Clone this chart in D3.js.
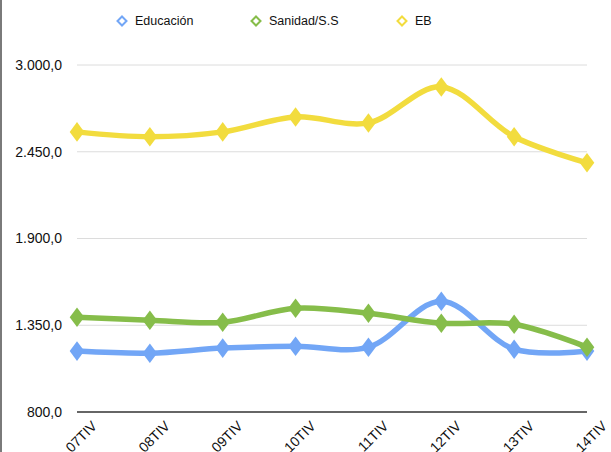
<!DOCTYPE html>
<html>
<head>
<meta charset="utf-8">
<script src="https://cdn.jsdelivr.net/npm/d3@7"></script>
<style>
  body { margin: 0; background: #fff; }
  svg { display: block; font-family: "Liberation Sans", Arial, sans-serif; }
</style>
</head>
<body>
<svg id="chart"></svg>
<script>
// Data
const categories = ["07TIV", "08TIV", "09TIV", "10TIV", "11TIV", "12TIV", "13TIV", "14TIV"];
const educacion = [1186, 1173, 1205, 1217, 1211, 1502, 1198, 1186];
const sanidad = [1401, 1382, 1369, 1458, 1426, 1363, 1356, 1211];
const eb = [2576, 2545, 2576, 2671, 2633, 2861, 2545, 2380];
const yTicks = [800, 1350, 1900, 2450, 3000];
const seriesNames = ["Educación", "Sanidad/S.S", "EB"];
const seriesColors = ["#72a6f6", "#86bd4a", "#f2dc3e"];

const series = [educacion, sanidad, eb].map((values, i) => ({
  name: seriesNames[i],
  color: seriesColors[i],
  values: values,
}));

// Dimensions
const svgWidth = 611;
const svgHeight = 452;
const margin = { top: 65, right: 24, bottom: 40, left: 77 };
const width = svgWidth - margin.left - margin.right;
const height = 412 - margin.top;

const svg = d3.select("#chart").attr("width", svgWidth).attr("height", svgHeight);

// Left border
svg.append("line")
  .attr("x1", 1).attr("x2", 1).attr("y1", 0).attr("y2", svgHeight)
  .attr("stroke", "#7a7a7a").attr("stroke-width", 2);

const g = svg.append("g").attr("transform", `translate(${margin.left},${margin.top})`);

// Scales
const x = d3.scalePoint().domain(categories).range([0, width]);
const y = d3.scaleLinear().domain([800, 3000]).range([height, 0]);

const fmt = (v) => d3.format(",.1f")(v).replace(/,/g, "#").replace(".", ",").replace(/#/g, ".");

// Gridlines
g.selectAll(".grid")
  .data(yTicks.filter((d) => d !== 800))
  .enter()
  .append("line")
  .attr("x1", 0).attr("x2", width)
  .attr("y1", (d) => y(d)).attr("y2", (d) => y(d))
  .attr("stroke", "#dcdcdc").attr("stroke-width", 1);

// Y labels
g.selectAll(".ylab")
  .data(yTicks)
  .enter()
  .append("text")
  .attr("x", -15)
  .attr("y", (d) => y(d))
  .attr("dy", "0.35em")
  .attr("text-anchor", "end")
  .attr("font-size", 14)
  .attr("fill", "#111")
  .text(fmt);

// Baseline axis
g.append("line")
  .attr("x1", 0).attr("x2", width)
  .attr("y1", y(800)).attr("y2", y(800))
  .attr("stroke", "#333").attr("stroke-width", 1.5);

// X labels
g.selectAll(".xlab")
  .data(categories)
  .enter()
  .append("text")
  .attr("transform", (d) => `translate(${x(d) + 14},${height + 8}) rotate(-45)`)
  .attr("text-anchor", "end")
  .attr("dy", "0.7em")
  .attr("font-size", 14)
  .attr("fill", "#111")
  .text((d) => d);

// Lines
const line = d3.line()
  .x((d, i) => x(categories[i]))
  .y((d) => y(d))
  .curve(d3.curveCatmullRom.alpha(0.5));

series.forEach((s) => {
  g.append("path")
    .datum(s.values)
    .attr("d", line)
    .attr("fill", "none")
    .attr("stroke", s.color)
    .attr("stroke-width", 5.5)
    .attr("stroke-linecap", "round");

  g.selectAll(null)
    .data(s.values)
    .enter()
    .append("path")
    .attr("d", d3.symbol(d3.symbolDiamond, 110))
    .attr("transform", (d, i) => `translate(${x(categories[i])},${y(d)}) scale(1.3,1)`)
    .attr("fill", s.color);
});

// Legend
const legendX = [122, 256, 402];
const legend = svg.selectAll(".legend")
  .data(series)
  .enter()
  .append("g")
  .attr("transform", (d, i) => `translate(${legendX[i]},21)`);

legend.append("path")
  .attr("d", "M0,-4.5L4.5,0L0,4.5L-4.5,0Z")
  .attr("fill", "#fff")
  .attr("stroke", (d) => d.color)
  .attr("stroke-width", 2);

legend.append("text")
  .attr("x", 13)
  .attr("dy", "0.35em")
  .attr("font-size", 12.5)
  .attr("fill", "#111")
  .text((d) => d.name);
</script>
</body>
</html>
